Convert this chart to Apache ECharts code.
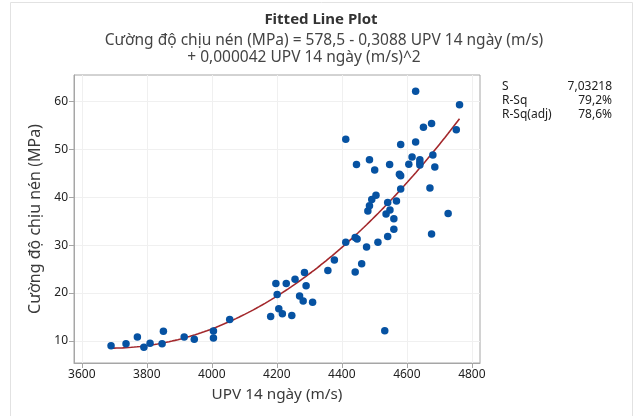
<!DOCTYPE html>
<html><head><meta charset="utf-8">
<script src="https://cdn.jsdelivr.net/npm/echarts@6/dist/echarts.min.js"></script>
<style>html,body{margin:0;padding:0;background:#fff}#c{width:637px;height:416px}</style>
</head><body><div id="c"></div>
<script>
// Data
const upv = [3690,3736,3771,3791,3810,3847,3851,3915,3946,4005,4005,4055,4181,4197,4201,4206,4217,4229,4246,4256,4270,4281,4285,4290,4310,4357,4377,4412,4412,4441,4441,4447,4445,4461,4476,4480,4485,4492,4505,4485,4501,4511,4532,4541,4536,4541,4548,4547,4560,4560,4568,4577,4581,4581,4581,4606,4616,4627,4627,4640,4640,4640,4651,4676,4680,4686,4671,4676,4727,4752,4762];
const strength = [9.0,9.4,10.8,8.7,9.5,9.4,12.0,10.8,10.35,12.1,10.6,14.5,15.1,22.0,19.7,16.7,15.7,22.0,15.3,22.9,19.4,18.35,24.3,21.5,18.1,24.7,26.9,30.6,52.1,24.4,31.6,31.3,46.8,26.1,29.6,37.1,38.2,39.5,40.4,47.8,45.7,30.6,12.15,31.8,36.5,38.9,37.35,46.8,35.5,33.3,39.2,44.8,44.45,41.7,51.0,46.9,48.4,51.5,62.1,47.8,47.2,46.7,54.6,55.4,48.8,46.3,41.9,32.3,36.6,54.05,59.3];
const xTicks = [3600,3800,4000,4200,4400,4600,4800];
const yTicks = [10,20,30,40,50,60];
const titleText = 'Fitted Line Plot';
const subLine1 = 'Cường độ chịu nén (MPa) = 578,5 - 0,3088 UPV 14 ngày (m/s)';
const subLine2 = '+ 0,000042 UPV 14 ngày (m/s)^2';
const statLabels = ['S','R-Sq','R-Sq(adj)'];
const statValues = ['7,03218','79,2%','78,6%'];
const xName = 'UPV 14 ngày (m/s)';
const yName = 'Cường độ chịu nén (MPa)';

// Quadratic least-squares fit of the data (the fitted line)
function quadFit(xs, ys){
  const x0 = 4200;
  let S=[0,0,0,0,0], T=[0,0,0];
  for(let i=0;i<xs.length;i++){
    const u=xs[i]-x0; let p=1;
    for(let k=0;k<5;k++){S[k]+=p; if(k<3) T[k]+=p*ys[i]; p*=u;}
  }
  const A=[[S[0],S[1],S[2],T[0]],[S[1],S[2],S[3],T[1]],[S[2],S[3],S[4],T[2]]];
  for(let i=0;i<3;i++){
    for(let j=i+1;j<3;j++){const f=A[j][i]/A[i][i]; for(let k=i;k<4;k++) A[j][k]-=f*A[i][k];}
  }
  const c=[0,0,0];
  for(let i=2;i>=0;i--){let s=A[i][3]; for(let k=i+1;k<3;k++) s-=A[i][k]*c[k]; c[i]=s/A[i][i];}
  return x=>{const u=x-x0; return c[0]+c[1]*u+c[2]*u*u;};
}
const fit = quadFit(upv, strength);
const xMin = Math.min(...upv), xMax = Math.max(...upv);
const fitLine = [];
for(let i=0;i<=120;i++){const x=xMin+(xMax-xMin)*i/120; fitLine.push([x, fit(x)]);}

const FONT = 'Noto Sans';
const chart = echarts.init(document.getElementById('c'), null, {renderer:'canvas'});
chart.setOption({
  animation:false,
  backgroundColor:'#fff',
  textStyle:{fontFamily:FONT},
  grid:{left:74, top:75, width:406, height:288, show:true, borderColor:'#a6a6a6', borderWidth:1, containLabel:false},
  xAxis:{
    type:'value', min:3576, max:4825,
    name:xName, nameLocation:'middle', nameGap:24,
    nameTextStyle:{fontFamily:FONT, fontSize:15.3, color:'#3a3a3a'},
    axisLine:{show:true, lineStyle:{color:'#a6a6a6'}},
    axisTick:{show:true, length:5, lineStyle:{color:'#a6a6a6'}, customValues:xTicks},
    axisLabel:{fontFamily:FONT, fontSize:12, color:'#222', margin:6, customValues:xTicks, formatter:v=>String(v)},
    splitLine:{show:true, lineStyle:{color:'#f0f0f0'}, customValues:xTicks}
  },
  yAxis:{
    type:'value', min:5.4, max:65.5,
    name:yName, nameLocation:'middle', nameGap:23, nameRotate:90,
    nameTextStyle:{fontFamily:FONT, fontSize:16, color:'#3a3a3a'},
    axisLine:{show:true, lineStyle:{color:'#a6a6a6'}},
    axisTick:{show:true, length:5, lineStyle:{color:'#a6a6a6'}, customValues:yTicks},
    axisLabel:{fontFamily:FONT, fontSize:12, color:'#222', margin:6, customValues:yTicks, formatter:v=>String(v)},
    splitLine:{show:true, lineStyle:{color:'#f0f0f0'}, customValues:yTicks}
  },
  series:[
    {type:'line', data:fitLine, showSymbol:false, smooth:false, lineStyle:{color:'#a3282c', width:1.6}, z:2},
    {type:'scatter', data:upv.map((x,i)=>[x,strength[i]]), symbol:'circle', symbolSize:7.5, itemStyle:{color:'#0652a2', opacity:1}, z:3}
  ],
  graphic:[
    {type:'rect', shape:{x:10.5,y:2.5,width:622,height:430}, style:{fill:'none', stroke:'#e2e2e2', lineWidth:1}, silent:true},
    {type:'text', x:321, y:20, style:{text:titleText, font:'bold 15px "Noto Sans"', fill:'#333', align:'center', verticalAlign:'middle'}},
    {type:'text', x:324, y:41, style:{text:subLine1, font:'15.5px "Noto Sans"', fill:'#444', align:'center', verticalAlign:'middle'}},
    {type:'text', x:304, y:58, style:{text:subLine2, font:'15.5px "Noto Sans"', fill:'#444', align:'center', verticalAlign:'middle'}},
    ...statLabels.map((t,i)=>({type:'text', x:502, y:87+i*14, style:{text:t, font:'12px "Noto Sans"', fill:'#222', align:'left', verticalAlign:'middle'}})),
    ...statValues.map((t,i)=>({type:'text', x:612, y:87+i*14, style:{text:t, font:'12px "Noto Sans"', fill:'#222', align:'right', verticalAlign:'middle'}}))
  ]
});
</script></body></html>
